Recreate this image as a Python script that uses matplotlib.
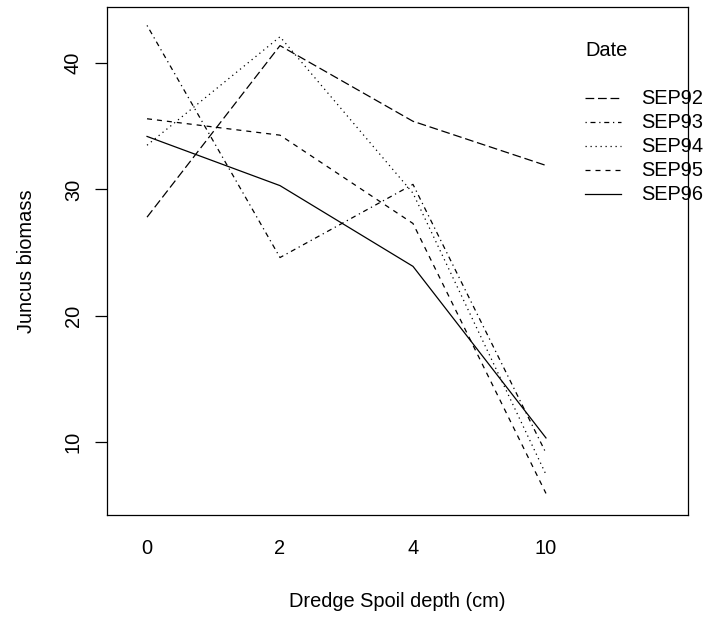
# interaction plot: Juncus biomass by dredge spoil depth, one line per sampling date
import matplotlib
matplotlib.use("Agg")
import matplotlib.pyplot as plt

plt.rcParams['font.family'] = ['Liberation Sans', 'DejaVu Sans']
plt.rcParams['lines.scale_dashes'] = False

# data
depth_labels = ["0", "2", "4", "10"]
dates = ["SEP92", "SEP93", "SEP94", "SEP95", "SEP96"]
sep92 = [27.8, 41.4, 35.4, 31.9]
sep93 = [43.0, 24.6, 30.4, 9.1]
sep94 = [33.5, 42.1, 29.7, 7.4]
sep95 = [35.6, 34.3, 27.3, 5.9]
sep96 = [34.2, 30.3, 23.9, 10.3]
series = [sep92, sep93, sep94, sep95, sep96]

# R lty 5,4,3,2,1 (longdash, dotdash, dotted, dashed, solid), in points
styles = [(0, (6.3, 2.7)),
          (0, (0.9, 2.7, 3.6, 2.7)),
          (0, (0.9, 2.7)),
          (0, (3.6, 3.6)),
          "-"]

FS = 14.4
LW = 0.9
W, H = 707, 617
fig = plt.figure(figsize=(W / 100, H / 100), dpi=100)
ax = fig.add_axes([107 / W, 1 - 515 / H, (688 - 107) / W, (515 - 7) / H])

xpos = list(range(1, len(depth_labels) + 1))
for vals, ls in zip(series, styles):
    ax.plot(xpos, vals, color="black", linestyle=ls, linewidth=LW)

ax.set_xlim(0.699, 5.068)
ax.set_ylim(4.19, 44.46)
ax.set_xticks(xpos)
ax.set_xticklabels(depth_labels)
ax.set_yticks([10, 20, 30, 40])
ax.tick_params(axis="x", length=0, pad=17.5, labelsize=FS)
ax.tick_params(axis="y", length=8.8, width=LW, pad=8.6, labelsize=FS,
               labelrotation=90)
for lab in ax.get_yticklabels():
    lab.set_va("center")

for sp in ax.spines.values():
    sp.set_linewidth(LW)
    sp.set_zorder(10)

ax.set_xlabel("Dredge Spoil depth (cm)", fontsize=FS, labelpad=24)
ax.set_ylabel("Juncus biomass", fontsize=FS, labelpad=20)

# legend drawn the R way: title, then segments + labels, running past the box
def fx(px):
    return px / W

def fy(py):
    return 1 - py / H

ax.text(fx(585), fy(51), "Date", transform=fig.transFigure, fontsize=FS,
        va="center", ha="left", clip_on=False)
row_y = [98, 122, 146, 170, 194]
for name, ls, ry in zip(dates, styles, row_y):
    ax.plot([fx(585), fx(621)], [fy(ry), fy(ry)], transform=fig.transFigure,
            color="black", linestyle=ls, linewidth=LW, clip_on=False)
    ax.text(fx(641), fy(ry), name, transform=fig.transFigure, fontsize=FS,
            va="center", ha="left", clip_on=False)

fig.savefig("out.png", dpi=100)
